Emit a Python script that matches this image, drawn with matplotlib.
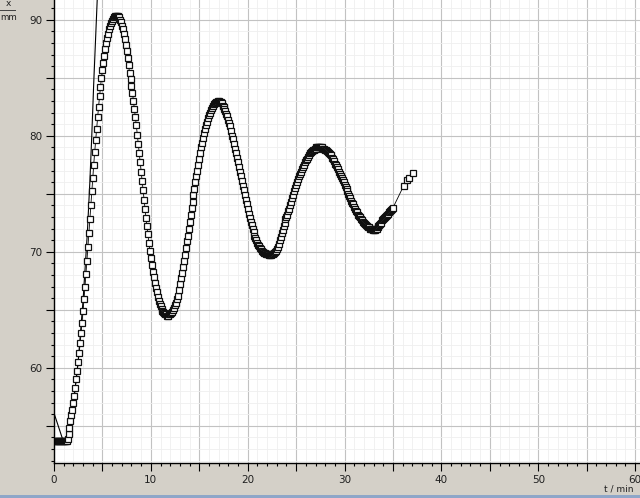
import matplotlib
matplotlib.use('Agg')
import matplotlib.pyplot as plt
import numpy as np
from matplotlib.ticker import MultipleLocator, FuncFormatter
from matplotlib.lines import Line2D
from matplotlib.patches import Rectangle

# Position x in mm, sampled every 0.1 min from 0.0 to 35.0 min (one row per minute)
position_mm = [
    53.7, 53.7, 53.7, 53.7, 53.7, 53.7, 53.7, 53.7, 53.7, 53.7,
    53.7, 53.7, 53.7, 53.7, 53.9, 54.3, 54.8, 55.4, 55.9, 56.4,
    57.0, 57.6, 58.3, 59.0, 59.7, 60.5, 61.3, 62.1, 63.0, 63.9,
    64.9, 65.9, 67.0, 68.1, 69.2, 70.4, 71.6, 72.8, 74.0, 75.2,
    76.4, 77.5, 78.6, 79.6, 80.6, 81.6, 82.5, 83.4, 84.2, 85.0,
    85.7, 86.3, 86.9, 87.5, 88.0, 88.4, 88.8, 89.2, 89.5, 89.7,
    89.9, 90.1, 90.2, 90.3, 90.3, 90.3, 90.3, 90.2, 90.0, 89.8,
    89.5, 89.2, 88.8, 88.3, 87.8, 87.3, 86.7, 86.1, 85.4, 84.9,
    84.3, 83.7, 83.0, 82.3, 81.6, 80.9, 80.1, 79.3, 78.5, 77.7,
    76.9, 76.1, 75.3, 74.5, 73.7, 72.9, 72.2, 71.5, 70.8, 70.1,
    69.5, 68.9, 68.3, 67.8, 67.3, 66.9, 66.5, 66.1, 65.8, 65.5,
    65.3, 65.1, 64.9, 64.8, 64.7, 64.6, 64.6, 64.5, 64.5, 64.6,
    64.6, 64.7, 64.8, 65.0, 65.2, 65.4, 65.6, 65.9, 66.2, 66.7,
    67.2, 67.7, 68.2, 68.7, 69.2, 69.7, 70.3, 70.9, 71.4, 72.0,
    72.6, 73.2, 73.8, 74.3, 74.9, 75.4, 76.0, 76.5, 77.0, 77.5,
    78.0, 78.5, 79.0, 79.4, 79.8, 80.2, 80.6, 80.9, 81.2, 81.5,
    81.8, 82.0, 82.2, 82.4, 82.6, 82.7, 82.8, 82.9, 82.9, 83.0,
    83.0, 82.9, 82.9, 82.8, 82.6, 82.5, 82.3, 82.1, 81.9, 81.7,
    81.4, 81.1, 80.8, 80.4, 80.0, 79.7, 79.3, 78.9, 78.5, 78.1,
    77.7, 77.3, 76.9, 76.5, 76.1, 75.7, 75.3, 74.9, 74.5, 74.1,
    73.7, 73.3, 72.9, 72.6, 72.3, 72.0, 71.7, 71.4, 71.2, 71.0,
    70.8, 70.6, 70.5, 70.3, 70.2, 70.1, 70.0, 69.9, 69.9, 69.8,
    69.8, 69.8, 69.7, 69.7, 69.7, 69.8, 69.8, 69.9, 70.0, 70.1,
    70.2, 70.4, 70.7, 71.0, 71.3, 71.6, 71.9, 72.2, 72.5, 72.8,
    73.0, 73.2, 73.5, 73.7, 74.0, 74.3, 74.6, 74.9, 75.2, 75.5,
    75.8, 76.0, 76.3, 76.5, 76.7, 76.9, 77.1, 77.3, 77.5, 77.7,
    77.9, 78.0, 78.2, 78.3, 78.5, 78.6, 78.7, 78.8, 78.8, 78.9,
    78.9, 79.0, 79.0, 79.0, 79.0, 79.0, 79.0, 79.0, 78.9, 78.9,
    78.8, 78.8, 78.7, 78.6, 78.5, 78.4, 78.3, 78.1, 78.0, 77.8,
    77.6, 77.5, 77.3, 77.1, 76.9, 76.7, 76.5, 76.4, 76.2, 76.0,
    75.8, 75.6, 75.4, 75.2, 75.0, 74.8, 74.6, 74.4, 74.2, 74.1,
    73.9, 73.7, 73.5, 73.4, 73.2, 73.1, 73.0, 72.8, 72.7, 72.6,
    72.5, 72.4, 72.3, 72.2, 72.1, 72.1, 72.0, 72.0, 72.0, 71.9,
    71.9, 71.9, 72.0, 72.0, 72.1, 72.2, 72.3, 72.4, 72.5, 72.7,
    72.8, 72.9, 73.0, 73.1, 73.2, 73.3, 73.4, 73.5, 73.6, 73.7,
    73.8,
]

# Last few sparse samples after 35 min
tail_time_min = [36.1, 36.4, 36.7, 37.1]
tail_position_mm = [75.7, 76.2, 76.4, 76.8]

# Second trace (plain line, no markers) that leaves the top of the plot
trace_time_min = [0.0, 0.95, 1.3, 1.5, 2.0, 2.5, 3.0, 3.44, 3.7, 3.9, 4.1, 4.3, 4.5, 4.7]
trace_position_mm = [56.1, 53.7, 53.7, 54.2, 56.9, 60.6, 65.8, 71.6, 76.0, 80.0, 84.5, 88.5, 92.5, 96.5]


def main():
    # Sample times for the dense part
    dense_time = np.round(np.arange(len(position_mm)) * 0.1, 1)
    time_min = np.concatenate([dense_time, tail_time_min])
    values = np.concatenate([position_mm, tail_position_mm])

    fig = plt.figure(figsize=(6.4, 4.98), dpi=100)
    fig.patch.set_facecolor('#d4d0c8')

    ax = fig.add_axes([54 / 640, 35 / 498, 586 / 640, 463 / 498])
    ax.set_facecolor('white')

    # Grid: every 5 units gray, every unit very light
    ax.xaxis.set_major_locator(MultipleLocator(5))
    ax.xaxis.set_minor_locator(MultipleLocator(1))
    ax.yaxis.set_major_locator(MultipleLocator(5))
    ax.yaxis.set_minor_locator(MultipleLocator(1))
    ax.grid(which='major', color='#c2c2c2', linewidth=0.8)
    ax.grid(which='minor', color='#efefef', linewidth=0.6)
    ax.set_axisbelow(True)

    # Only label the tens
    only_tens = FuncFormatter(lambda v, p: f'{v:.0f}' if round(v) % 10 == 0 else '')
    ax.xaxis.set_major_formatter(only_tens)
    ax.yaxis.set_major_formatter(only_tens)

    ax.tick_params(which='major', direction='out', length=6, width=0.8,
                   labelsize=7.5, labelcolor='#202020', pad=2.5)
    ax.tick_params(which='minor', direction='out', length=2.2, width=0.8)

    for side in ['top', 'right']:
        ax.spines[side].set_visible(False)
    for side in ['left', 'bottom']:
        ax.spines[side].set_color('black')
        ax.spines[side].set_linewidth(1.0)

    # Plain trace
    ax.plot(trace_time_min, trace_position_mm, color='black', linewidth=0.8)

    # Measured data: open squares joined by a thin line
    ax.plot(time_min, values, color='black', linewidth=0.6,
            marker='s', markersize=4.3, markerfacecolor='white',
            markeredgecolor='#101010', markeredgewidth=0.9)

    ax.set_xlim(0, 60.5)
    ax.set_ylim(51.8, 91.7)

    # Axis captions as the measuring software draws them
    fig.text(633 / 640, 1 - 489 / 498, 't / min', ha='right', va='center',
             fontsize=6.5, color='#202020')
    fig.text(8 / 640, 1 - 4 / 498, 'x', ha='center', va='center',
             fontsize=6.5, color='#202020')
    fig.add_artist(Line2D([0, 15 / 640], [1 - 10 / 498, 1 - 10 / 498],
                          color='#404040', linewidth=0.7))
    fig.text(8.5 / 640, 1 - 17 / 498, 'mm', ha='center', va='center',
             fontsize=6.3, color='#202020')

    # Blue window border strip at the very bottom
    fig.add_artist(Rectangle((0, 0), 1, 3 / 498, transform=fig.transFigure,
                             facecolor='#8ea6c8', edgecolor='none'))

    fig.savefig('out.png', dpi=100, facecolor=fig.get_facecolor())


if __name__ == "__main__":
    main()
